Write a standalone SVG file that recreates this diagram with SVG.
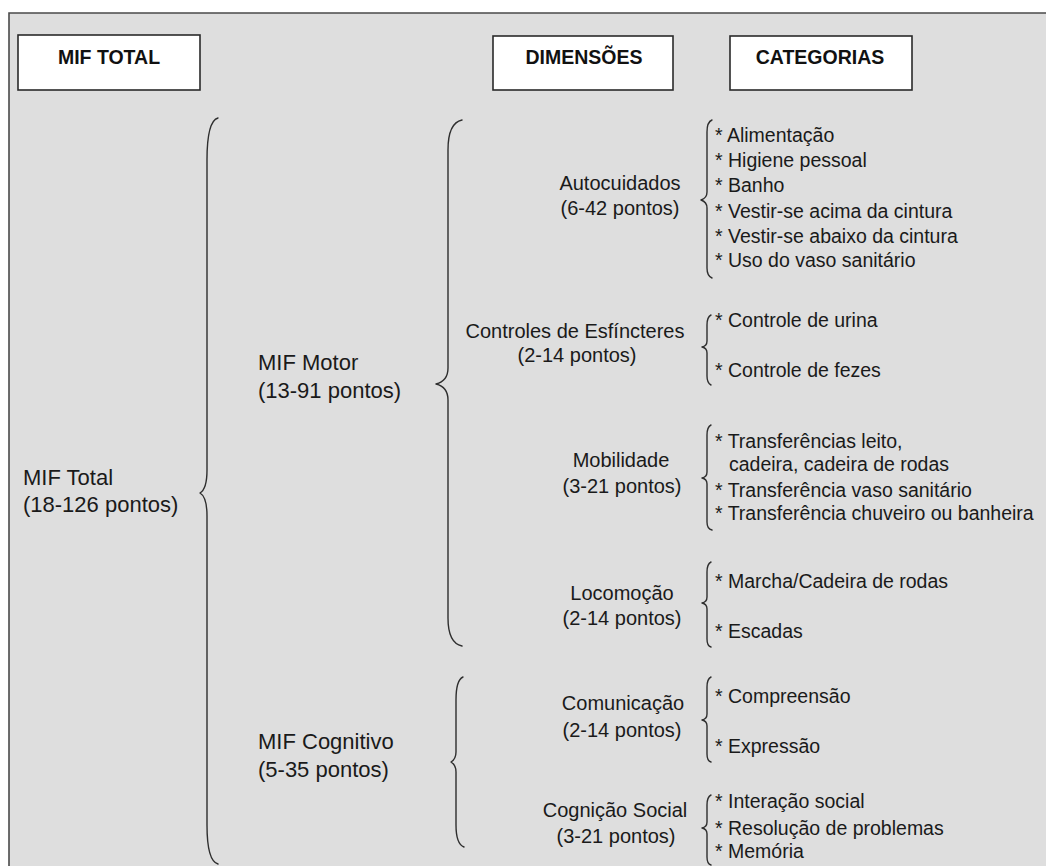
<svg xmlns="http://www.w3.org/2000/svg" width="1046" height="866" viewBox="0 0 1046 866">
<style>
.bg{fill:#dedede}
.frame{fill:none;stroke:#4a4a4a;stroke-width:1.6}
.hbox{fill:#ffffff;stroke:#2a2a2a;stroke-width:1.6}
.htxt{font-family:"Liberation Sans",Arial,sans-serif;font-weight:bold;font-size:19.5px;fill:#111;text-anchor:middle}
.main{font-family:"Liberation Sans",Arial,sans-serif;font-size:22px;fill:#1a1a1a}
.dim{font-family:"Liberation Sans",Arial,sans-serif;font-size:20px;fill:#1a1a1a;text-anchor:middle}
.cat{font-family:"Liberation Sans",Arial,sans-serif;font-size:19.5px;fill:#1a1a1a}
.brace{fill:none;stroke:#2e2e2e;stroke-width:1.4;stroke-linecap:round;stroke-linejoin:round}
</style>
<rect x="0" y="0" width="1046" height="866" fill="#ffffff"/>
<rect class="bg" x="9" y="13" width="1037" height="853"/>
<path class="frame" d="M9,866 L9,13 L1046,13"/>

<g id="hdr-mif-total">
<rect class="hbox" x="18" y="35" width="182" height="55"/>
<text class="htxt" x="109" y="64">MIF TOTAL</text>
</g>
<g id="hdr-dimensoes">
<rect class="hbox" x="493" y="36" width="180" height="54"/>
<text class="htxt" x="584" y="64">DIMENSÕES</text>
</g>
<g id="hdr-categorias">
<rect class="hbox" x="730" y="36" width="182" height="54"/>
<text class="htxt" x="820" y="64">CATEGORIAS</text>
</g>

<g id="connectors">
<path class="brace" d="M218,118 Q207,121 207,160 L207,470 Q207,489 200,493 Q207,497 207,516 L207,825 Q207,861 218,864"/>
<path class="brace" d="M462,120 Q448,123 448,150 L448,368 Q448,381 436,384 Q448,387 448,400 L448,618 Q448,643 462,646"/>
<path class="brace" d="M463,677 Q456,680 456,700 L456,752 Q456,759 451,762 Q456,765 456,772 L456,825 Q456,844 464,847"/>
<path class="brace" d="M712,120 Q707,122 707,132 L707,192 Q707,198 701,200 Q707,202 707,208 L707,268 Q707,276 712,278"/>
<path class="brace" d="M711,315 Q707,317 707,325 L707,341 Q707,346 702,347 Q707,348 707,353 L707,376 Q707,383 711,385"/>
<path class="brace" d="M711,425 Q707,427 707,435 L707,472 Q707,477 702,478 Q707,479 707,484 L707,522 Q707,529 712,530"/>
<path class="brace" d="M711,562 Q707,564 707,572 L707,597 Q707,602 702,603 Q707,604 707,609 L707,639 Q707,646 711,647"/>
<path class="brace" d="M711,677 Q707,679 707,687 L707,714 Q707,719 702,720 Q707,721 707,726 L707,754 Q707,761 711,762"/>
<path class="brace" d="M711,795 Q707,797 707,805 L707,822 Q707,827 702,828 Q707,829 707,834 L707,857 Q707,864 711,865"/>
</g>

<g id="mif-total">
<text class="main" x="23" y="485">MIF Total</text>
<text class="main" x="23" y="512">(18-126 pontos)</text>
</g>
<g id="mif-motor">
<text class="main" x="258" y="370">MIF Motor</text>
<text class="main" x="258" y="398">(13-91 pontos)</text>
</g>
<g id="mif-cognitivo">
<text class="main" x="258" y="749">MIF Cognitivo</text>
<text class="main" x="258" y="777">(5-35 pontos)</text>
</g>

<g id="dim-autocuidados">
<text class="dim" x="620" y="190">Autocuidados</text>
<text class="dim" x="620" y="215">(6-42 pontos)</text>
</g>
<g id="dim-esfincteres">
<text class="dim" x="575" y="338">Controles de Esfíncteres</text>
<text class="dim" x="577" y="362">(2-14 pontos)</text>
</g>
<g id="dim-mobilidade">
<text class="dim" x="621" y="467">Mobilidade</text>
<text class="dim" x="622" y="493">(3-21 pontos)</text>
</g>
<g id="dim-locomocao">
<text class="dim" x="622" y="600">Locomoção</text>
<text class="dim" x="622" y="625">(2-14 pontos)</text>
</g>
<g id="dim-comunicacao">
<text class="dim" x="623" y="710">Comunicação</text>
<text class="dim" x="622" y="737">(2-14 pontos)</text>
</g>
<g id="dim-cognicao-social">
<text class="dim" x="615" y="817">Cognição Social</text>
<text class="dim" x="616" y="843">(3-21 pontos)</text>
</g>

<g id="cat-autocuidados">
<text class="cat" x="715" y="142">* Alimentação</text>
<text class="cat" x="715" y="167">* Higiene pessoal</text>
<text class="cat" x="715" y="192">* Banho</text>
<text class="cat" x="715" y="218">* Vestir-se acima da cintura</text>
<text class="cat" x="715" y="243">* Vestir-se abaixo da cintura</text>
<text class="cat" x="715" y="267">* Uso do vaso sanitário</text>
</g>
<g id="cat-esfincteres">
<text class="cat" x="715" y="327">* Controle de urina</text>
<text class="cat" x="715" y="377">* Controle de fezes</text>
</g>
<g id="cat-mobilidade">
<text class="cat" x="715" y="448">* Transferências leito,</text>
<text class="cat" x="729" y="471">cadeira, cadeira de rodas</text>
<text class="cat" x="715" y="497">* Transferência vaso sanitário</text>
<text class="cat" x="715" y="520">* Transferência chuveiro ou banheira</text>
</g>
<g id="cat-locomocao">
<text class="cat" x="715" y="588">* Marcha/Cadeira de rodas</text>
<text class="cat" x="715" y="638">* Escadas</text>
</g>
<g id="cat-comunicacao">
<text class="cat" x="715" y="703">* Compreensão</text>
<text class="cat" x="715" y="753">* Expressão</text>
</g>
<g id="cat-cognicao-social">
<text class="cat" x="715" y="808">* Interação social</text>
<text class="cat" x="715" y="835">* Resolução de problemas</text>
<text class="cat" x="715" y="858">* Memória</text>
</g>
</svg>
